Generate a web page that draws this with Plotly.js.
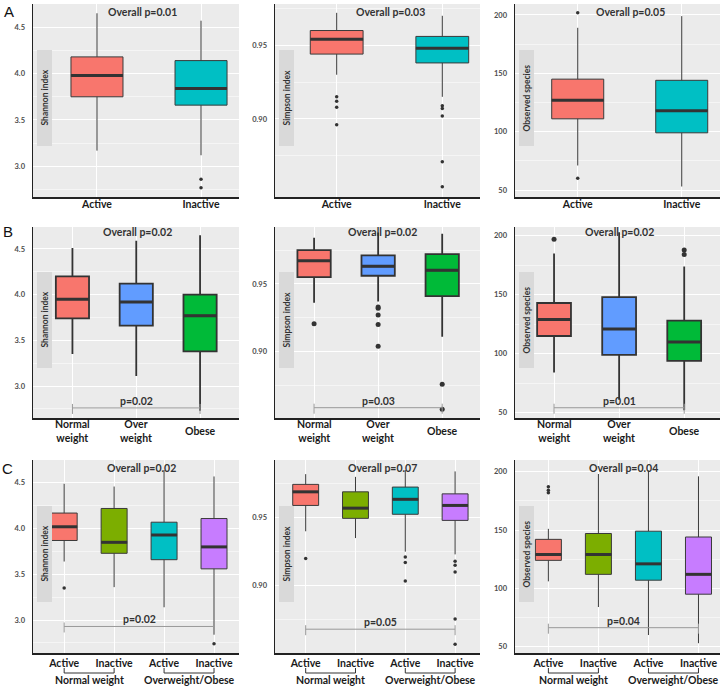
<!DOCTYPE html>
<html>
<head>
<meta charset="utf-8">
<script src="https://cdn.plot.ly/plotly-3.0.1.min.js"></script>
<style>
  body { margin: 0; background: #fff; }
  #chart { width: 726px; height: 688px; }
</style>
</head>
<body>
<div id="chart"></div>
<script>
// === DATA ===
// box stats per group: [lower whisker, q1, median, q3, upper whisker]
const groupsA = ["Active", "Inactive"];
const groupsB = ["Normal<br>weight", "Over<br>weight", "Obese"];
const groupsC = ["Active", "Inactive", "Active", "Inactive"];
const subgroupsC = ["Normal weight", "Overweight/Obese"];

const shannonA = [[3.17, 3.75, 3.98, 4.18, 4.65], [3.12, 3.66, 3.84, 4.14, 4.57]];
const shannonOutA = [[], [2.86, 2.77]];
const simpsonA = [[0.930, 0.944, 0.954, 0.960, 0.972], [0.915, 0.938, 0.948, 0.956, 0.970]];
const simpsonOutA = [[0.915, 0.912, 0.908, 0.896], [0.909, 0.907, 0.902, 0.871, 0.854]];
const observedA = [[71, 111, 127, 145, 189], [53, 99, 118, 144, 199]];
const observedOutA = [[202, 60], []];

const shannonB = [[3.35, 3.74, 3.95, 4.20, 4.51], [3.11, 3.66, 3.92, 4.12, 4.59], [2.73, 3.38, 3.77, 4.00, 4.65]];
const shannonOutB = [[], [], []];
const simpsonB = [[0.936, 0.955, 0.967, 0.975, 0.984], [0.937, 0.956, 0.963, 0.971, 0.988], [0.911, 0.941, 0.960, 0.972, 0.987]];
const simpsonOutB = [[0.9205], [0.933, 0.932, 0.927, 0.920, 0.904], [0.876, 0.8575]];
const observedB = [[84, 115, 129, 143, 185], [61, 99, 121, 148, 203], [52, 94, 110, 128, 174]];
const observedOutB = [[197], [], [188, 184]];

const shannonC = [[3.64, 3.87, 4.02, 4.17, 4.49], [3.36, 3.73, 3.85, 4.22, 4.46], [3.14, 3.66, 3.93, 4.07, 4.64], [2.84, 3.56, 3.80, 4.11, 4.57]];
const shannonOutC = [[3.35], [], [], [2.74]];
const simpsonC = [[0.940, 0.959, 0.969, 0.9745, 0.982], [0.935, 0.9495, 0.957, 0.969, 0.980], [0.925, 0.9525, 0.9635, 0.9725, 0.985], [0.923, 0.948, 0.959, 0.9675, 0.984]];
const simpsonOutC = [[0.920], [], [0.921, 0.917, 0.9035], [0.918, 0.915, 0.910, 0.8755, 0.857]];
const observedC = [[106, 124, 129, 142, 151], [84, 112, 129, 147, 198], [60, 107, 121, 149, 201], [53, 95, 112, 144, 196]];
const observedOutC = [[187, 184, 182], [], [], []];

const overallP = ["Overall p=0.01", "Overall p=0.03", "Overall p=0.05",
                  "Overall p=0.02", "Overall p=0.02", "Overall p=0.02",
                  "Overall p=0.02", "Overall p=0.07", "Overall p=0.04"];
// pairwise test (first vs last group) for rows B and C
const pairP = [null, null, null, "p=0.02", "p=0.03", "p=0.01", "p=0.02", "p=0.05", "p=0.04"];
const pairLevel = [null, null, null, 2.76, 0.8586, 54.2, 2.93, 0.868, 66.3];

const metricNames = ["Shannon index", "Simpson index", "Observed species"];
const majorTicks = [[3.0, 3.5, 4.0, 4.5], [0.90, 0.95], [50, 100, 150, 200]];
const minorTicks = [[2.75, 3.25, 3.75, 4.25, 4.75], [0.875, 0.925, 0.975], [75, 125, 175]];
const tickFormats = [".1f", ".2f", "d"];

const colorsA = ["#F8766D", "#00BFC4"];
const colorsB = ["#F8766D", "#619CFF", "#00BA38"];
const colorsC = ["#F8766D", "#7CAE00", "#00BFC4", "#C77CFF"];

// === LAYOUT HELPERS ===
const W = 726, H = 688;
const px = x => x / W;
const py = y => 1 - y / H;
const FONT = "Lato, 'DejaVu Sans', sans-serif";
const colX = [[33, 239], [275, 480], [515, 720]];
const rowY = [[4, 197], [227, 418], [460, 653]];
const yRanges = [
  [[2.67, 4.75], [0.847, 0.978], [44, 209.4]],
  [[2.65, 4.74], [0.851, 0.992], [45.5, 207.4]],
  [[2.64, 4.75], [0.8505, 0.9924], [44.6, 210]]
];
const xRanges = [
  [[0.385, 2.365], [0.416, 2.357], [0.397, 2.368]],
  [[0.382, 3.61], [0.39, 3.59], [0.4, 3.55]],
  [[0.376, 4.5], [0.384, 4.5], [0.333, 4.43]]
];
const overallPos = [[142, 12], [390, 12], [630, 12], [137, 232], [382, 232], [619, 232], [141, 468], [383, 468], [623, 468]];

const rows = [
  { groups: groupsA, colors: colorsA, stats: [shannonA, simpsonA, observedA], outs: [shannonOutA, simpsonOutA, observedOutA], boxW: 0.5, lw: 1, lc: "#3a3a3a", dot: 3.5, standoff: -3 },
  { groups: groupsB, colors: colorsB, stats: [shannonB, simpsonB, observedB], outs: [shannonOutB, simpsonOutB, observedOutB], boxW: 0.52, lw: 1.8, lc: "#333", dot: 5, standoff: 0 },
  { groups: groupsC, colors: colorsC, stats: [shannonC, simpsonC, observedC], outs: [shannonOutC, simpsonOutC, observedOutC], boxW: 0.52, lw: 1, lc: "#3a3a3a", dot: 3.5, standoff: 0 }
];

const traces = [];
const layout = {
  width: W, height: H,
  margin: { l: 0, r: 0, t: 0, b: 0 },
  paper_bgcolor: "#fff",
  plot_bgcolor: "#ebebeb",
  showlegend: false,
  font: { family: FONT, color: "#333" },
  shapes: [],
  annotations: []
};

function note(opts) {
  layout.annotations.push(Object.assign({ showarrow: false, xanchor: "center", yanchor: "middle" }, opts));
}

// === BUILD PANELS ===
rows.forEach((row, r) => {
  for (let c = 0; c < 3; c++) {
    const k = r * 3 + c;
    const xId = k === 0 ? "x" : "x" + (k + 1);
    const yId = k === 0 ? "y" : "y" + (k + 1);
    const [L, R] = colX[c];
    const [T, B] = rowY[r];
    const stats = row.stats[c];
    const outs = row.outs[c];

    stats.forEach((s, j) => {
      traces.push({
        type: "box", x: [j + 1],
        lowerfence: [s[0]], q1: [s[1]], median: [s[2]], q3: [s[3]], upperfence: [s[4]],
        width: row.boxW, whiskerwidth: 0, boxpoints: false,
        fillcolor: row.colors[j], line: { color: row.lc, width: row.lw },
        xaxis: xId, yaxis: yId, hoverinfo: "skip"
      });
      // thick median bar
      traces.push({
        type: "scatter", mode: "lines",
        x: [j + 1 - row.boxW / 2, j + 1 + row.boxW / 2], y: [s[2], s[2]],
        line: { color: "#333", width: 3 }, xaxis: xId, yaxis: yId, hoverinfo: "skip"
      });
      if (outs[j].length) {
        traces.push({
          type: "scatter", mode: "markers",
          x: outs[j].map(() => j + 1), y: outs[j],
          marker: { color: "#333", size: row.dot }, xaxis: xId, yaxis: yId, hoverinfo: "skip"
        });
      }
    });

    layout["xaxis" + (k === 0 ? "" : k + 1)] = {
      domain: [px(L), px(R)], anchor: yId, range: xRanges[r][c],
      tickmode: "array", tickvals: row.groups.map((_, j) => j + 1),
      ticktext: row.groups, showticklabels: r !== 1,
      tickfont: { family: FONT, size: 10.5, color: "#1a1a1a", weight: "bold" },
      ticks: "", ticklabelstandoff: row.standoff,
      showgrid: true, gridcolor: "#fff", gridwidth: 1, zeroline: false,
      showline: true, linecolor: "#222", linewidth: 1.5, fixedrange: true
    };
    layout["yaxis" + (k === 0 ? "" : k + 1)] = {
      domain: [py(B), py(T)], anchor: xId, range: yRanges[r][c],
      tickmode: "array", tickvals: majorTicks[c], tickformat: tickFormats[c],
      tickfont: { family: FONT, size: 7.5, color: "#4d4d4d", weight: "bold" },
      ticks: "", ticklabelstandoff: 5,
      showgrid: true, gridcolor: "#fff", gridwidth: 1, zeroline: false,
      minor: { tickmode: "array", tickvals: minorTicks[c], showgrid: true, gridcolor: "#fff", gridwidth: 0.5 },
      showline: true, linecolor: "#222", linewidth: 1.5, fixedrange: true
    };

    // y title in a grey strip inside the panel
    const midY = (T + B) / 2 - 2.5;
    layout.shapes.push({
      type: "rect", xref: "paper", yref: "paper", layer: "above",
      x0: px(L + 4), x1: px(L + 19), y0: py(midY + 48), y1: py(midY - 48),
      fillcolor: "#d9d9d9", line: { width: 0 }
    });
    note({
      xref: "paper", yref: "paper", x: px(L + 11.5), y: py(midY),
      text: metricNames[c], textangle: -90,
      font: { family: FONT, size: 8.5, color: "#333", weight: "bold" }
    });

    // overall p-value
    note({
      xref: "paper", yref: "paper", x: px(overallPos[k][0]), y: py(overallPos[k][1]),
      text: overallP[k],
      font: { family: FONT, size: 10.5, color: "#333", weight: "bold" }
    });

    // pairwise bracket first vs last group
    if (pairP[k]) {
      const n = row.groups.length;
      const lv = pairLevel[k];
      layout.shapes.push({
        type: "line", xref: xId, yref: yId, x0: 1, x1: n, y0: lv, y1: lv,
        line: { color: "#999", width: 1 }
      });
      [1, n].forEach(xx => layout.shapes.push({
        type: "line", xref: xId, yref: yId, ysizemode: "pixel", yanchor: lv,
        x0: xx, x1: xx, y0: -6, y1: 4, line: { color: "#999", width: 1 }
      }));
      note({
        xref: xId, yref: yId, x: (1 + n) / 2, y: lv, yanchor: "bottom", yshift: -1,
        text: pairP[k],
        font: { family: FONT, size: 10.5, color: "#333", weight: "bold" }
      });
    }

    // row B: two-line category labels
    if (r === 1) {
      row.groups.forEach((g, j) => note({
        xref: xId, yref: "paper", x: j + 1, y: py(431),
        text: g,
        font: { family: FONT, size: 10.5, color: "#1a1a1a", weight: "bold" }
      }));
    }

    // row C: group brackets under the tick labels
    if (r === 2) {
      subgroupsC.forEach((g, s) => {
        const a = 2 * s + 1, b = 2 * s + 2;
        layout.shapes.push({
          type: "path", xref: xId, yref: "paper",
          path: `M ${a} ${py(668)} L ${a} ${py(673)} L ${b} ${py(673)} L ${b} ${py(668)}`,
          line: { color: "#333", width: 1 }
        });
        note({
          xref: xId, yref: "paper", x: (a + b) / 2, y: py(680),
          text: g,
          font: { family: FONT, size: 10.5, color: "#1a1a1a", weight: "bold" }
        });
      });
    }
  }
});

// panel letters
[["A", 9, 11], ["B", 8, 231], ["C", 7, 468]].forEach(([t, x, y]) => note({
  xref: "paper", yref: "paper", x: px(x), y: py(y), text: t,
  font: { family: "'Liberation Sans', Arial, sans-serif", size: 15, color: "#111" }
}));

Plotly.newPlot("chart", traces, layout, { staticPlot: true });
</script>
</body>
</html>
